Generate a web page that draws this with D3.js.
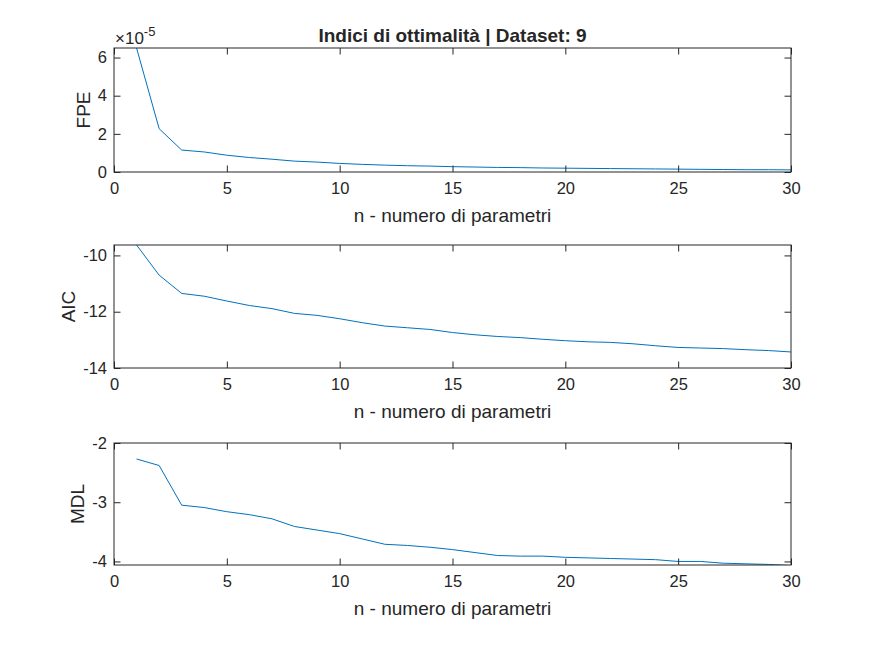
<!DOCTYPE html>
<html>
<head>
<meta charset="utf-8">
<script src="https://cdn.jsdelivr.net/npm/d3@7"></script>
<style>
  body { margin: 0; background: #fff; }
  text { font-family: "Liberation Sans", Arial, sans-serif; fill: #262626; }
</style>
</head>
<body>
<script>
// orders 1..30
const nParam = [1, 2, 3, 4, 5, 6, 7, 8, 9, 10, 11, 12, 13, 14, 15,
    16, 17, 18, 19, 20, 21, 22, 23, 24, 25, 26, 27, 28, 29, 30]

// FPE in units of 1e-5
const fpe = [6.5, 2.27, 1.15, 1.05, 0.88, 0.76, 0.67, 0.57, 0.52, 0.45,
    0.40, 0.36, 0.33, 0.31, 0.28, 0.26, 0.24, 0.23, 0.21, 0.20,
    0.19, 0.18, 0.17, 0.16, 0.15, 0.14, 0.13, 0.12, 0.12, 0.11]

const aic = [-9.63, -10.70, -11.35, -11.45, -11.62, -11.78, -11.89, -12.06, -12.13, -12.25,
    -12.39, -12.51, -12.57, -12.63, -12.74, -12.82, -12.88, -12.92, -12.98, -13.03,
    -13.07, -13.09, -13.14, -13.21, -13.27, -13.29, -13.31, -13.35, -13.38, -13.43]

const mdl = [-2.27, -2.38, -3.05, -3.09, -3.16, -3.21, -3.28, -3.41, -3.47, -3.53,
    -3.62, -3.71, -3.73, -3.76, -3.80, -3.85, -3.90, -3.91, -3.91, -3.93,
    -3.94, -3.95, -3.96, -3.97, -4.00, -4.00, -4.03, -4.04, -4.05, -4.07]

const xTicks = [0, 5, 10, 15, 20, 25, 30]
const fpeTicks = [0, 2, 4, 6]
const aicTicks = [-14, -12, -10]
const mdlTicks = [-4, -3, -2]

const title = 'Indici di ottimalità | Dataset: 9'
const xLabel = 'n - numero di parametri'

const dimensions = { width: 875, height: 656 }
const left = 114, right = 791

const panels = [
    { values: fpe, ticks: fpeTicks, domain: [0, 6.5], label: 'FPE', top: 48, bottom: 172, exp: true },
    { values: aic, ticks: aicTicks, domain: [-14, -9.63], label: 'AIC', top: 245, bottom: 368 },
    { values: mdl, ticks: mdlTicks, domain: [-4.06, -2], label: 'MDL', top: 443, bottom: 565 }
]

const svg = d3.select('body').append('svg')
    .attr('width', dimensions.width)
    .attr('height', dimensions.height)

const x = d3.scaleLinear().domain([0, 30]).range([left, right])

const tickLen = 6.5
const axisColor = '#262626'

panels.forEach(function (p, i) {
    const y = d3.scaleLinear().domain(p.domain).range([p.bottom, p.top])
    const g = svg.append('g')

    svg.append('clipPath').attr('id', 'clip' + i)
        .append('rect')
        .attr('x', left).attr('y', p.top)
        .attr('width', right - left).attr('height', p.bottom - p.top)

    const line = d3.line()
        .x(function (d, j) { return x(nParam[j]) })
        .y(function (d) { return y(d) })

    g.append('path')
        .datum(p.values)
        .attr('clip-path', 'url(#clip' + i + ')')
        .attr('fill', 'none')
        .attr('stroke', '#0072BD')
        .attr('stroke-width', 1)
        .attr('d', line)

    // bottom axis with labels
    const xb = g.append('g')
        .attr('transform', 'translate(0,' + p.bottom + ')')
        .call(d3.axisBottom(x).tickValues(xTicks).tickSize(-tickLen).tickSizeOuter(0).tickPadding(10))
    // top axis, ticks only
    const xt = g.append('g')
        .attr('transform', 'translate(0,' + p.top + ')')
        .call(d3.axisTop(x).tickValues(xTicks).tickSize(-tickLen).tickSizeOuter(0).tickFormat(''))
    // left axis
    const yl = g.append('g')
        .attr('transform', 'translate(' + left + ',0)')
        .call(d3.axisLeft(y).tickValues(p.ticks).tickSize(-tickLen).tickSizeOuter(0).tickPadding(7)
            .tickFormat(function (d) { return String(d).replace('\u2212', '-') }))
    // right axis, ticks only
    const yr = g.append('g')
        .attr('transform', 'translate(' + right + ',0)')
        .call(d3.axisRight(y).tickValues(p.ticks).tickSize(-tickLen).tickSizeOuter(0).tickFormat(''))

    ;[xb, xt, yl, yr].forEach(function (a) {
        a.select('.domain').remove()
        a.selectAll('line').attr('stroke', axisColor)
        a.selectAll('text')
            .attr('font-family', '"Liberation Sans", Arial, sans-serif')
            .attr('font-size', 16.5)
            .attr('fill', axisColor)
    })

    g.append('rect')
        .attr('x', left).attr('y', p.top)
        .attr('width', right - left).attr('height', p.bottom - p.top)
        .attr('fill', 'none')
        .attr('stroke', axisColor)
        .attr('stroke-width', 1)

    g.append('text')
        .attr('x', (left + right) / 2)
        .attr('y', p.bottom + 49.5)
        .attr('text-anchor', 'middle')
        .attr('font-size', 19)
        .text(xLabel)

    let maxW = 0
    yl.selectAll('text').each(function () {
        maxW = Math.max(maxW, this.getComputedTextLength())
    })
    const lx = left - 7 - maxW - 8
    g.append('text')
        .attr('transform', 'translate(' + lx + ',' + (p.top + p.bottom) / 2 + ') rotate(-90)')
        .attr('text-anchor', 'middle')
        .attr('font-size', 19)
        .text(p.label)

    if (p.exp) {
        const e = g.append('text')
            .attr('x', left + 1)
            .attr('y', p.top - 4)
            .attr('font-size', 17)
        e.append('tspan').text('\u00d710')
        e.append('tspan').attr('dy', -8).attr('font-size', 13).text('-5')
    }
})

svg.append('text')
    .attr('x', (left + right) / 2)
    .attr('y', 42)
    .attr('text-anchor', 'middle')
    .attr('font-size', 19)
    .attr('font-weight', 'bold')
    .text(title)
</script>
</body>
</html>
